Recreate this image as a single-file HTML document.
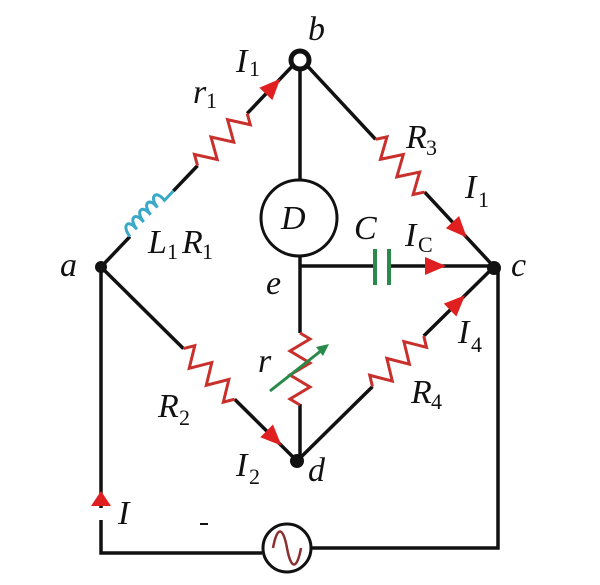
<!DOCTYPE html>
<html><head><meta charset="utf-8"><style>
html,body{margin:0;padding:0;background:#fff;}
svg{display:block}
text{font-family:"Liberation Serif",serif;font-style:italic;font-size:34px;fill:#111}
.s{font-size:22px;font-style:normal}
</style></head><body>
<svg width="600" height="585" viewBox="0 0 600 585" xmlns="http://www.w3.org/2000/svg">
<defs>
<path id="zz" d="M0,0 l6,-10 l12,20 l12,-20 l12,20 l12,-20 l12,20 l6,-10" fill="none" stroke="#c8302c" stroke-width="3" stroke-linejoin="miter"/>
<path id="arr" d="M-11,-9 L10,0 L-11,9 Z" fill="#e02020"/>
</defs>
<g stroke="#111" stroke-width="3.5" fill="none">
<g transform="translate(101,267) rotate(-46.4)">
<line x1="0" y1="0" x2="42" y2="0"/><line x1="105" y1="0" x2="140" y2="0"/><line x1="212" y1="0" x2="285" y2="0"/>
<path d="M42,0 c2,-14 12,-14 10,0 c2,-14 12,-14 10,0 c2,-14 12,-14 10,0 c2,-14 12,-14 10,0 c2,-14 12,-14 10,0 l13,0" stroke="#3aa8c8" stroke-width="3"/>
<use href="#zz" x="140" stroke="none"/>
<use href="#arr" x="250" stroke="none"/>
</g>
<g transform="translate(300,58) rotate(47.1)">
<line x1="5" y1="0" x2="111" y2="0"/><line x1="183" y1="0" x2="285" y2="0"/>
<use href="#zz" x="111" stroke="none"/>
<use href="#arr" x="235" stroke="none"/>
</g>
<g transform="translate(101,267) rotate(44.7)">
<line x1="0" y1="0" x2="116" y2="0"/><line x1="188" y1="0" x2="276" y2="0"/>
<use href="#zz" x="116" stroke="none"/>
<use href="#arr" x="244" stroke="none"/>
</g>
<g transform="translate(297,461) rotate(-44.6)">
<line x1="0" y1="0" x2="106" y2="0"/><line x1="178" y1="0" x2="276" y2="0"/>
<use href="#zz" x="106" stroke="none"/>
<use href="#arr" x="226" stroke="none"/>
</g>
<line x1="300" y1="64" x2="300" y2="179"/>
<circle cx="299" cy="218" r="38" stroke-width="3"/>
<line x1="300" y1="256" x2="300" y2="333"/>
<line x1="300" y1="404" x2="300" y2="461"/>
<g transform="translate(300,333) rotate(90)"><use href="#zz" stroke="none"/></g>
<line x1="270" y1="391" x2="322" y2="350" stroke="#2a8a4a" stroke-width="3"/>
<path d="M329,344 L316,347 L323,356 Z" fill="#2a8a4a" stroke="none"/>
<line x1="300" y1="266" x2="375" y2="266"/><line x1="389" y1="266" x2="494" y2="266"/>
<line x1="375" y1="249" x2="375" y2="285" stroke="#2a8a4a" stroke-width="4"/>
<line x1="389" y1="249" x2="389" y2="285" stroke="#2a8a4a" stroke-width="4"/>
<use href="#arr" transform="translate(436,266)" stroke="none"/>
<path d="M101,267 L101,508 M101,520 L101,553 L262,553"/>
<path d="M312,548 L498,548 L498,267"/>
<circle cx="287" cy="548" r="24" stroke-width="3"/>
<path d="M273,548 c4,-22 10,-22 14,0 c4,22 10,22 14,0" stroke="#8a3030" stroke-width="2.5"/>
<path d="M91,506 L101,491 L111,506 Z" fill="#e02020" stroke="none"/>
<line x1="200" y1="524" x2="208" y2="524" stroke-width="2"/>
</g>
<circle cx="300" cy="60" r="9" fill="#fff" stroke="#111" stroke-width="5"/>
<circle cx="101" cy="267" r="6" fill="#111"/>
<circle cx="494" cy="268" r="7" fill="#111"/>
<circle cx="297" cy="461" r="7" fill="#111"/>
<text x="308" y="40">b</text>
<text x="236" y="72">I</text><text class="s" x="249" y="76">1</text>
<text x="193" y="103">r</text><text class="s" x="206" y="108">1</text>
<text x="406" y="148">R</text><text class="s" x="426" y="155">3</text>
<text x="465" y="198">I</text><text class="s" x="478" y="207">1</text>
<text x="148" y="253">L</text><text class="s" x="167" y="259">1</text><text x="182" y="253">R</text><text class="s" x="202" y="259">1</text>
<text x="281" y="229">D</text>
<text x="354" y="239">C</text>
<text x="405" y="246">I</text><text class="s" x="418" y="252">C</text>
<text x="60" y="276">a</text>
<text x="511" y="276">c</text>
<text x="266" y="294">e</text>
<text x="258" y="372">r</text>
<text x="158" y="417">R</text><text class="s" x="179" y="425">2</text>
<text x="411" y="403">R</text><text class="s" x="431" y="409">4</text>
<text x="458" y="343">I</text><text class="s" x="471" y="352">4</text>
<text x="236" y="476">I</text><text class="s" x="249" y="484">2</text>
<text x="308" y="481">d</text>
<text x="118" y="524">I</text>
</svg>
</body></html>
